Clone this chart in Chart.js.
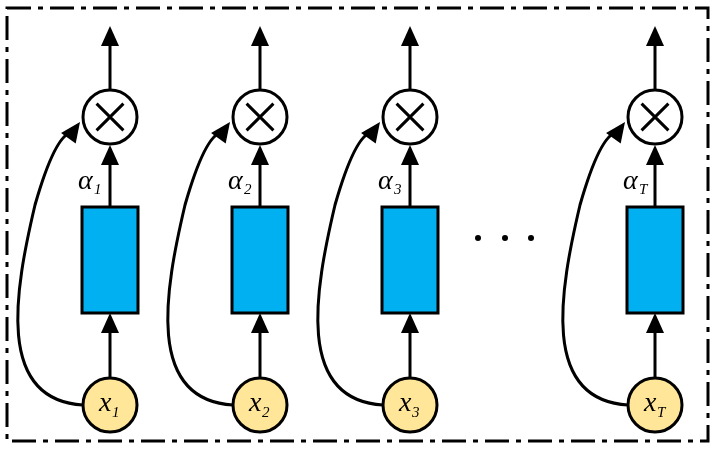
<!DOCTYPE html>
<html><head><meta charset="utf-8">
<script src="https://cdn.jsdelivr.net/npm/chart.js@4"></script>
<style>html,body{margin:0;padding:0;background:#fff}</style>
</head><body>
<canvas id="c" width="715" height="453"></canvas>
<script>
// ── Diagram data (in page units) ──────────────────────────────
const columnX   = [110, 260, 410, 655];
const subs      = ['1', '2', '3', 'T'];
const inputY    = 405;   // x_t nodes
const gateY     = 117;   // multiply nodes
const boxTop    = 207, boxBottom = 313, boxHalfW = 28;
const nodeR     = 27;

const inputPts = columnX.map(x => ({ x, y: inputY }));
const gatePts  = columnX.map(x => ({ x, y: gateY }));

const diagram = {
  id: 'diagram',
  beforeDatasetsDraw(chart) {
    const { ctx, scales: { x: sx, y: sy } } = chart;
    const X = v => sx.getPixelForValue(v), Y = v => sy.getPixelForValue(v);
    ctx.save();
    ctx.strokeStyle = '#000'; ctx.fillStyle = '#000'; ctx.lineWidth = 3;

    // outer dash-dot frame
    ctx.setLineDash([24, 7, 5, 7]);
    ctx.strokeRect(X(7), Y(8), X(708) - X(7), Y(441) - Y(8));
    ctx.setLineDash([]);

    const head = (tx, ty, ang) => {
      ctx.save(); ctx.translate(tx, ty); ctx.rotate(ang);
      ctx.beginPath(); ctx.moveTo(0, 0); ctx.lineTo(-20, -9); ctx.lineTo(-20, 9); ctx.closePath();
      ctx.fill(); ctx.restore();
    };
    const up = (x, y0, y1) => {
      ctx.beginPath(); ctx.moveTo(X(x), Y(y0)); ctx.lineTo(X(x), Y(y1) + 15); ctx.stroke();
      head(X(x), Y(y1), -Math.PI / 2);
    };

    columnX.forEach((cx, i) => {
      // box
      ctx.fillStyle = '#00B0F0';
      ctx.fillRect(X(cx - boxHalfW), Y(boxTop), X(cx + boxHalfW) - X(cx - boxHalfW), Y(boxBottom) - Y(boxTop));
      ctx.strokeRect(X(cx - boxHalfW), Y(boxTop), X(cx + boxHalfW) - X(cx - boxHalfW), Y(boxBottom) - Y(boxTop));
      ctx.fillStyle = '#000';
      up(cx, inputY - nodeR, boxBottom);
      up(cx, boxTop, gateY + nodeR + 1);
      up(cx, gateY - nodeR, 26);
      // curved skip arrow
      const sx0 = cx - nodeR, ex = cx - 30, ey = gateY + 5;
      const c2x = cx - 75, c2y = 205;
      ctx.beginPath();
      ctx.moveTo(X(sx0), Y(inputY));
      ctx.bezierCurveTo(X(cx - 115), Y(inputY - 5), X(cx - 95), Y(290), X(c2x), Y(c2y));
      ctx.quadraticCurveTo(X(cx - 55), Y(135), X(ex - 8), Y(ey + 10));
      ctx.stroke();
      head(X(ex), Y(ey), Math.atan2(Y(ey) - Y(ey + 14), X(ex) - X(ex - 10)));
      // alpha label
      ctx.font = 'italic 28px "Liberation Serif", serif';
      ctx.textBaseline = 'alphabetic'; ctx.textAlign = 'left';
      ctx.fillText('α', X(cx - 32), Y(189));
      ctx.font = 'italic 15px "Liberation Serif", serif';
      ctx.fillText(subs[i], X(cx - 16), Y(194));
    });

    // ellipsis
    [478, 505, 531].forEach(d => { ctx.beginPath(); ctx.arc(X(d), Y(238), 3, 0, Math.PI * 2); ctx.fill(); });
    ctx.restore();
  },
  afterDatasetsDraw(chart) {
    const { ctx, scales: { x: sx, y: sy } } = chart;
    ctx.save(); ctx.fillStyle = '#000';
    columnX.forEach((cx, i) => {
      const px = sx.getPixelForValue(cx), py = sy.getPixelForValue(inputY);
      ctx.font = 'italic 28px "Liberation Serif", serif';
      ctx.textBaseline = 'alphabetic'; ctx.textAlign = 'left';
      ctx.fillText('x', px - 11, py + 6);
      ctx.font = 'italic 15px "Liberation Serif", serif';
      ctx.fillText(subs[i], px + 2, py + 12);
    });
    ctx.restore();
  }
};

new Chart(document.getElementById('c'), {
  type: 'scatter',
  data: {
    datasets: [
      { data: inputPts, order: 2, pointRadius: nodeR, pointBackgroundColor: '#FFE699', pointBorderColor: '#000', pointBorderWidth: 3 },
      { data: gatePts, order: 1, pointRadius: nodeR, pointBackgroundColor: '#fff', pointBorderColor: '#000', pointBorderWidth: 3 },
      { data: gatePts, order: 0, pointStyle: 'crossRot', pointRadius: 19, pointBorderColor: '#000', pointBorderWidth: 3 },
    ],
  },
  options: {
    responsive: false, animation: false, devicePixelRatio: 1,
    layout: { padding: 0, autoPadding: false },
    plugins: { legend: { display: false }, tooltip: { enabled: false } },
    scales: {
      x: { type: 'linear', min: 0, max: 715, display: false },
      y: { type: 'linear', min: 0, max: 453, reverse: true, display: false },
    },
  },
  plugins: [diagram],
});
</script>
</body></html>
